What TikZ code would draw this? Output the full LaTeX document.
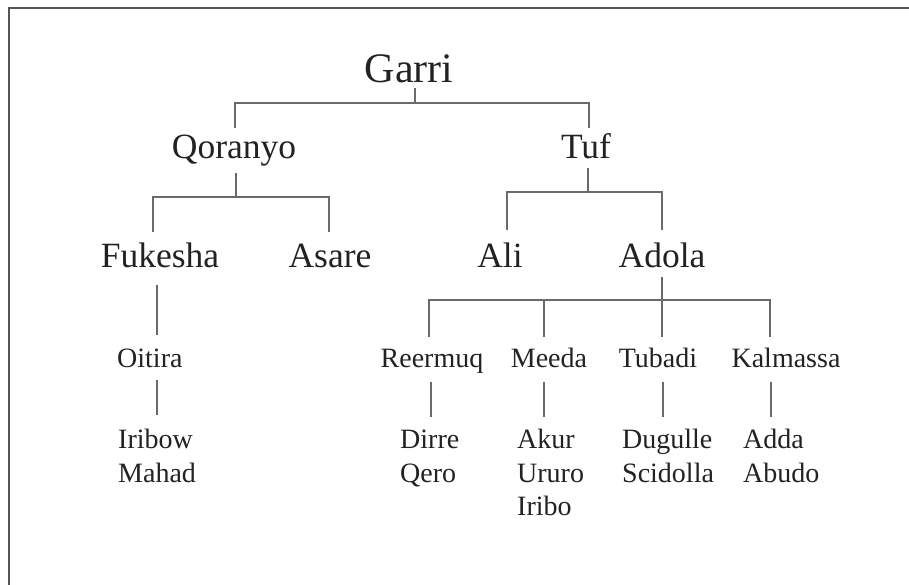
\documentclass[tikz,border=0pt]{standalone}
\usepackage{fontspec}
\setmainfont{Liberation Serif}
\definecolor{linec}{HTML}{6A6A6A}
\definecolor{framec}{HTML}{555555}
\definecolor{txtc}{HTML}{222222}
\tikzset{
  lvlA/.style={anchor=base, inner sep=0pt, text=txtc, font=\fontsize{42}{46}\selectfont},
  lvlB/.style={anchor=base, inner sep=0pt, text=txtc, font=\fontsize{35.5}{40}\selectfont},
  lvlC/.style={anchor=base, inner sep=0pt, text=txtc, font=\fontsize{28}{32}\selectfont},
  lvlD/.style={anchor=base west, inner sep=0pt, text=txtc, font=\fontsize{28}{32}\selectfont},
  conn/.style={draw=linec, line width=2pt},
}
\begin{document}
\begin{tikzpicture}[x=1pt,y=-1pt]
\useasboundingbox (0,0) rectangle (909,584);
% frame (left and top only)
\draw[framec, line width=2.5pt] (9,590) -- (9,8) -- (915,8);

% nodes
\node[lvlA] (garri) at (409,82) {Garri};
\node[lvlB] (qor) at (234,158) {Qoranyo};
\node[lvlB] (tuf) at (586,158) {Tuf};
\node[lvlB] (fuk) at (160,267) {Fukesha};
\node[lvlB] (asa) at (330,267) {Asare};
\node[lvlB] (ali) at (500,267) {Ali};
\node[lvlB] (ado) at (662,267) {Adola};
\node[lvlD] (oit) at (117,367) {Oitira};
\node[lvlC] (ree) at (432,367) {Reermuq};
\node[lvlC] (mee) at (549,367) {Meeda};
\node[lvlC] (tub) at (658,367) {Tubadi};
\node[lvlC] (kal) at (786,367) {Kalmassa};
\node[lvlD] (iri1) at (118,448) {Iribow};
\node[lvlD] (iri2) at (118,482) {Mahad};
\node[lvlD] (dir1) at (400,448) {Dirre};
\node[lvlD] (dir2) at (400,482) {Qero};
\node[lvlD] (aku1) at (517,448) {Akur};
\node[lvlD] (aku2) at (517,482) {Ururo};
\node[lvlD] (aku3) at (517,515) {Iribo};
\node[lvlD] (dug1) at (622,448) {Dugulle};
\node[lvlD] (dug2) at (622,482) {Scidolla};
\node[lvlD] (add1) at (743,448) {Adda};
\node[lvlD] (add2) at (743,482) {Abudo};

% connector coordinates
\coordinate (gT) at (415,88);
\coordinate (gB) at (415,103);
\coordinate (qT) at (235,128);
\coordinate (tT) at (589,128);
\coordinate (qS) at (236,173);
\coordinate (qB) at (236,197);
\coordinate (fT) at (153,232);
\coordinate (aT) at (329,232);
\coordinate (tS) at (588,168);
\coordinate (tB) at (588,192);
\coordinate (liT) at (507,230);
\coordinate (adT) at (662,230);
\coordinate (adS) at (662,277);
\coordinate (adB) at (662,300);
\coordinate (reT) at (429,337);
\coordinate (meT) at (544,337);
\coordinate (tuT) at (662,337);
\coordinate (kaT) at (770,337);
\coordinate (fS) at (157,285);
\coordinate (oT) at (157,335);
\coordinate (oS) at (157,380);
\coordinate (iT) at (157,415);
\coordinate (reS) at (431,382);
\coordinate (diT) at (431,417);
\coordinate (meS) at (544,382);
\coordinate (akT) at (544,417);
\coordinate (tuS) at (663,382);
\coordinate (duT) at (663,417);
\coordinate (kaS) at (771,382);
\coordinate (aaT) at (771,417);

% connectors
\draw[conn] (gT) -- (gB);
\draw[conn] (qT) |- (gB) -| (tT);
\draw[conn] (qS) -- (qB);
\draw[conn] (fT) |- (qB) -| (aT);
\draw[conn] (tS) -- (tB);
\draw[conn] (liT) |- (tB) -| (adT);
\draw[conn] (adS) -- (tuT);
\draw[conn] (reT) |- (adB) -| (kaT);
\draw[conn] (meT) -- (meT |- adB);
\draw[conn] (fS) -- (oT);
\draw[conn] (oS) -- (iT);
\draw[conn] (reS) -- (diT);
\draw[conn] (meS) -- (akT);
\draw[conn] (tuS) -- (duT);
\draw[conn] (kaS) -- (aaT);
\end{tikzpicture}
\end{document}
